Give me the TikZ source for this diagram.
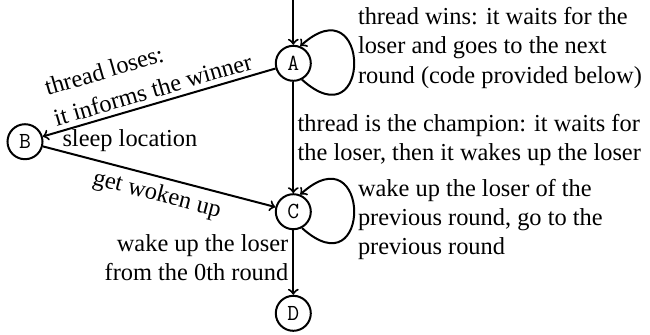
\documentclass[tikz,border=0pt]{standalone}
\usepackage{fontspec}
\setmainfont{Liberation Serif}
\begin{document}
\begin{tikzpicture}[x=0.5pt, y=-0.5pt, line width=1pt, >=to,
  state/.style={circle, draw, minimum size=17.5pt, inner sep=0pt,
    font=\ttfamily\fontsize{11.5}{13}\selectfont},
  txt/.style={font=\fontsize{12.2}{14.6}\selectfont, inner sep=0pt},
  selfloop/.style={->, looseness=1}]
\useasboundingbox (0,0) rectangle (650,334);

% states
\node[state] (A) at (293.3,63.3) {A};
\node[state] (B) at (25,141.7) {B};
\node[state] (C) at (293.3,211.7) {C};
\node[state] (D) at (293.3,313.3) {D};
\coordinate (entry) at (293.3,0);

% entry into A
\draw[->] (entry) -- (A);

% A: winner loop
\draw[selfloop] (A.-62) .. controls +(-42:47.5pt) and +(42:47.5pt) .. (A.68);
\node[txt, anchor=north west, align=left] (winlbl) at (357,6.6)
  {thread wins: it waits for the\\loser and goes to the next\\round (code provided below)};

% A -> B: loser
\draw[->] (A) -- node[txt, font=\fontsize{12.2}{16}\selectfont, sloped, pos=0.957,
    anchor=south west, inner sep=2.3pt, align=left]
  (loselbl) {thread loses:\\it informs the winner} (B);
\node[txt, anchor=base west] (sleeplbl) at (61.5,146) {sleep location};

% B -> C: woken up
\draw[->] (B) -- node[txt, sloped, below, inner sep=3.1pt, pos=0.51] (wokenlbl) {get woken up} (C);

% A -> C: champion
\draw[->] (A) -- node[txt, right, inner sep=1.7pt, align=left, pos=0.52] (champlbl)
  {thread is the champion: it waits for\\the loser, then it wakes up the loser} (C);

% C: wake-up loop
\draw[selfloop] (C.-62) .. controls +(-42:47.5pt) and +(42:47.5pt) .. (C.68);
\node[txt, anchor=north west, align=left] (wakelbl) at (357,178.3)
  {wake up the loser of the\\previous round, go to the\\previous round};

% C -> D
\draw[->] (C) -- node[txt, left, inner sep=2pt, align=right, pos=0.43] (zerolbl)
  {wake up the loser\\from the 0th round} (D);
\end{tikzpicture}
\end{document}
